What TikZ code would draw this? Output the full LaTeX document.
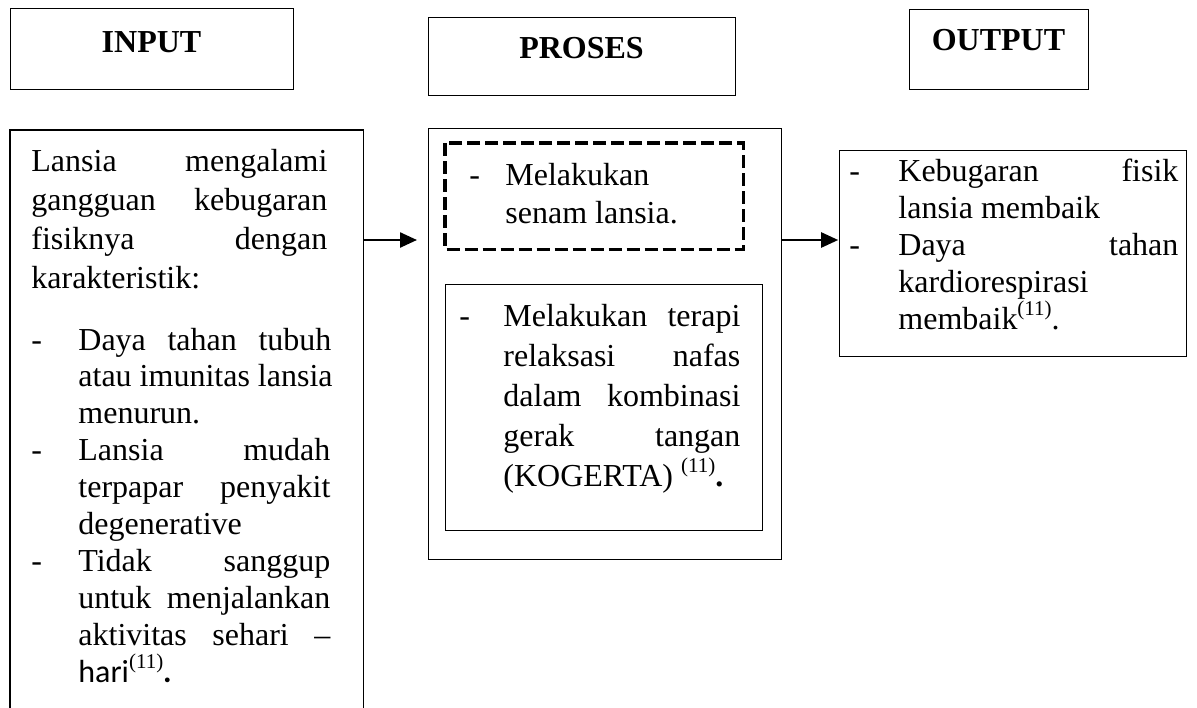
\documentclass[tikz,border=0pt]{standalone}
\usepackage{fontspec}
\setmainfont{Liberation Serif}
\newfontfamily\calib{Carlito}
\usetikzlibrary{arrows.meta}
\newcommand{\refsup}{\raisebox{0.42em}{\fontsize{10.5}{10.5}\selectfont(11)}}
\begin{document}
\begin{tikzpicture}[x=0.5pt,y=-0.5pt,
  bx/.style={draw, line width=0.65pt, inner sep=0pt, anchor=north west},
  tx/.style={inner sep=0pt, anchor=base west, font=\fontsize{16}{19}\selectfont},
  hd/.style={inner sep=0pt, anchor=base, font=\fontsize{16}{19}\selectfont\bfseries},
  arr/.style={line width=1.2pt, -{Triangle[length=8.5pt,width=7.5pt]}}]
\useasboundingbox (0,0) rectangle (1197,707);
% header boxes
\node[bx, minimum width=141.5pt, minimum height=40.5pt] (hin) at (10,8) {};
\node[bx, minimum width=153.5pt, minimum height=39pt] (hpro) at (428,17) {};
\node[bx, minimum width=89.5pt, minimum height=40pt] (hout) at (909,9) {};
\node[hd] (tin) at (151.5,52) {INPUT};
\node[hd] (tpro) at (581.5,58) {PROSES};
\node[hd] (tout) at (998.5,50) {OUTPUT};
% main boxes
\node[inner sep=0pt, anchor=north west, minimum width=176.5pt, minimum height=295pt] (inmain) at (10,130) {};
\draw[line width=0.65pt] (inmain.south west) -- (inmain.north west) -- (inmain.north east) -- (inmain.south east);
\node[bx, minimum width=176.5pt, minimum height=215.5pt] (pmain) at (428,128) {};
\node[bx, draw=none, minimum width=148.5pt, minimum height=52.5pt] (pdash) at (445,143) {};
\draw[line width=1.8pt, dash pattern=on 6.5pt off 2.5pt] (pdash.north west) rectangle (pdash.south east);
\node[bx, minimum width=158.5pt, minimum height=123pt] (pin) at (445,284) {};
\node[bx, minimum width=173.5pt, minimum height=103pt] (omain) at (839,150) {};
% arrows
\coordinate (ay) at (0,240);
\draw[arr] (inmain.east |- ay) -- ([xshift=-5.5pt]pmain.west |- ay);
\draw[arr] (pmain.east |- ay) -- ([xshift=-0.4pt]omain.west |- ay);
% input text
\node[tx] (i1) at (31,171) {\hbox to 148pt{Lansia\hfill mengalami}};
\node[tx] (i2) at (31,210) {\hbox to 148pt{gangguan\hfill kebugaran}};
\node[tx] (i3) at (31,249) {\hbox to 148pt{fisiknya\hfill dengan}};
\node[tx] (i4) at (31,288) {karakteristik:};
\node[tx] (d1) at (31,350) {-};
\node[tx] (j1) at (78,350) {\hbox to 126.5pt{Daya\hfill tahan\hfill tubuh}};
\node[tx] (j2) at (78,386.9) {atau imunitas lansia};
\node[tx] (j3) at (78,423.8) {menurun.};
\node[tx] (d2) at (31,460.7) {-};
\node[tx] (j4) at (78,460.7) {\hbox to 126pt{Lansia\hfill mudah}};
\node[tx] (j5) at (78,497.6) {\hbox to 126pt{terpapar\hfill penyakit}};
\node[tx] (j6) at (78,534.5) {degenerative};
\node[tx] (d3) at (31,571.4) {-};
\node[tx] (j7) at (78,571.4) {\hbox to 126pt{Tidak\hfill sanggup}};
\node[tx] (j8) at (78,608.3) {\hbox to 126pt{untuk\hfill menjalankan}};
\node[tx] (j9) at (78,645.2) {\hbox to 126pt{aktivitas\hfill sehari\hfill --}};
\node[tx] (j10) at (78,682.1) {{\calib hari}\refsup{\calib\bfseries .}};
% proses text
\node[tx] (d4) at (469,185) {-};
\node[tx] (p1) at (505,185) {Melakukan};
\node[tx] (p2) at (505,223) {senam lansia.};
\node[tx] (d5) at (459,326) {-};
\node[tx] (q1) at (503,326) {\hbox to 118.5pt{Melakukan\hfill terapi}};
\node[tx] (q2) at (503,366) {\hbox to 118.5pt{relaksasi\hfill nafas}};
\node[tx] (q3) at (503,406) {\hbox to 118.5pt{dalam\hfill kombinasi}};
\node[tx] (q4) at (503,446) {\hbox to 118.5pt{gerak\hfill tangan}};
\node[tx] (q5) at (503,486) {(KOGERTA) \refsup\textbf{.}};
% output text
\node[tx] (d6) at (849,181) {-};
\node[tx] (o1) at (898,181) {\hbox to 140pt{Kebugaran\hfill fisik}};
\node[tx] (o2) at (898,218) {lansia membaik};
\node[tx] (d7) at (849,255) {-};
\node[tx] (o3) at (898,255) {\hbox to 140pt{Daya\hfill tahan}};
\node[tx] (o4) at (898,292) {kardiorespirasi};
\node[tx] (o5) at (898,329) {membaik\refsup.};
\end{tikzpicture}
\end{document}
